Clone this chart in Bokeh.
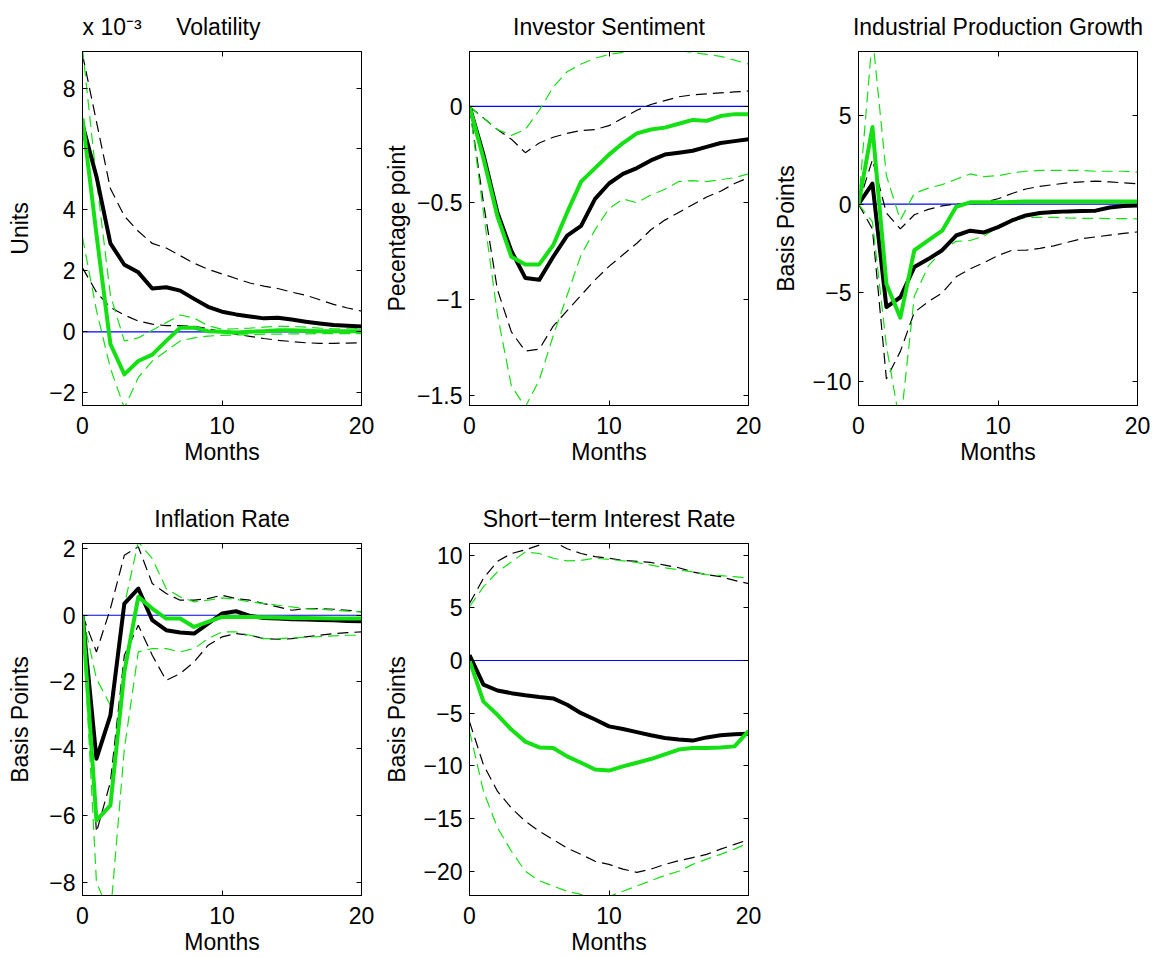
from bokeh.plotting import figure
from bokeh.models import Range1d, FixedTicker, LinearAxis, CustomJSTickFormatter
from bokeh.layouts import row, column
from bokeh.embed import file_html
from bokeh.resources import INLINE

# ---------------- data ----------------
months = list(range(21))
zero_line = [0.0] * len(months)

# Volatility (units of 1e-3)
vol_scale_note = "x 10\u207b\u00b3"
vol_black = [6.8, 5.1, 2.9, 2.2, 1.95, 1.42, 1.46, 1.35, 1.08, 0.82, 0.66, 0.57, 0.5, 0.44, 0.46, 0.4, 0.33, 0.27, 0.22, 0.2, 0.17]
vol_black_up = [9.1, 6.9, 4.7, 3.8, 3.3, 2.9, 2.75, 2.5, 2.25, 2.05, 1.9, 1.75, 1.6, 1.5, 1.42, 1.3, 1.2, 1.05, 0.9, 0.78, 0.68]
vol_black_lo = [2.1, 1.3, 0.8, 0.55, 0.35, 0.25, 0.2, 0.2, 0.18, 0.1, 0.0, -0.08, -0.15, -0.22, -0.28, -0.32, -0.36, -0.38, -0.38, -0.37, -0.36]
vol_green = [7.0, 3.2, -0.4, -1.4, -0.96, -0.75, -0.3, 0.13, 0.13, 0.02, 0.0, -0.02, 0.0, 0.02, 0.05, 0.05, 0.03, 0.02, 0.02, 0.02, 0.02]
vol_green_up = [9.3, 5.0, 1.2, -0.3, -0.2, 0.05, 0.3, 0.55, 0.45, 0.2, 0.08, 0.1, 0.12, 0.15, 0.18, 0.18, 0.15, 0.12, 0.1, 0.1, 0.1]
vol_green_lo = [3.1, 0.7, -1.2, -2.5, -1.5, -0.96, -0.63, -0.3, -0.2, -0.14, -0.12, -0.1, -0.1, -0.08, -0.08, -0.07, -0.07, -0.06, -0.06, -0.06, -0.06]

# Investor Sentiment
sen_black = [0, -0.25, -0.55, -0.75, -0.89, -0.9, -0.78, -0.67, -0.62, -0.48, -0.4, -0.35, -0.32, -0.28, -0.25, -0.24, -0.23, -0.21, -0.19, -0.18, -0.17]
sen_black_up = [0, -0.06, -0.12, -0.17, -0.24, -0.19, -0.16, -0.14, -0.125, -0.12, -0.1, -0.06, -0.02, 0.01, 0.03, 0.05, 0.06, 0.065, 0.07, 0.075, 0.08]
sen_black_lo = [0, -0.5, -0.95, -1.17, -1.27, -1.26, -1.14, -1.06, -0.98, -0.9, -0.83, -0.77, -0.71, -0.64, -0.59, -0.55, -0.51, -0.47, -0.44, -0.4, -0.37]
sen_green = [0, -0.27, -0.57, -0.78, -0.82, -0.82, -0.72, -0.55, -0.39, -0.32, -0.25, -0.19, -0.14, -0.12, -0.11, -0.09, -0.07, -0.075, -0.05, -0.04, -0.04]
sen_green_up = [0, -0.06, -0.12, -0.15, -0.12, -0.02, 0.1, 0.18, 0.22, 0.25, 0.27, 0.28, 0.29, 0.29, 0.29, 0.29, 0.28, 0.27, 0.26, 0.24, 0.22]
sen_green_lo = [0, -0.55, -1.08, -1.45, -1.56, -1.42, -1.19, -0.98, -0.77, -0.64, -0.53, -0.48, -0.5, -0.46, -0.43, -0.39, -0.385, -0.39, -0.38, -0.37, -0.35]

# Industrial Production Growth
ip_black = [0, 1.15, -5.8, -5.25, -3.55, -3.1, -2.6, -1.77, -1.5, -1.6, -1.3, -0.92, -0.64, -0.5, -0.45, -0.41, -0.39, -0.37, -0.19, -0.11, -0.08]
ip_black_up = [0, 2.5, -0.5, -1.4, -0.6, -0.3, -0.1, 0.0, 0.0, 0.1, 0.3, 0.6, 0.85, 1.0, 1.1, 1.2, 1.25, 1.3, 1.25, 1.2, 1.15]
ip_black_lo = [0, -1.4, -9.85, -8.3, -6.1, -5.5, -5.0, -4.1, -3.65, -3.3, -2.9, -2.6, -2.6, -2.5, -2.35, -2.15, -1.95, -1.85, -1.75, -1.65, -1.57]
ip_green = [0, 4.34, -4.5, -6.4, -2.6, -2.05, -1.5, -0.15, 0.1, 0.1, 0.1, 0.12, 0.15, 0.15, 0.15, 0.15, 0.15, 0.15, 0.15, 0.15, 0.15]
ip_green_up = [0, 9.5, 1.6, -0.9, 0.6, 0.9, 1.1, 1.4, 1.7, 1.55, 1.6, 1.75, 1.85, 1.9, 1.9, 1.9, 1.9, 1.85, 1.85, 1.85, 1.8]
ip_green_lo = [0, -1.0, -8.0, -12.5, -5.2, -3.5, -2.6, -2.1, -2.05, -1.8, -1.3, -0.95, -0.75, -0.75, -0.75, -0.78, -0.8, -0.8, -0.82, -0.82, -0.83]

# Inflation Rate
inf_black = [0, -4.3, -3.0, 0.35, 0.8, -0.15, -0.45, -0.52, -0.55, -0.25, 0.05, 0.12, -0.02, -0.08, -0.1, -0.12, -0.13, -0.14, -0.15, -0.17, -0.18]
inf_black_up = [0, -1.1, 0.2, 1.8, 2.05, 0.95, 0.65, 0.45, 0.45, 0.5, 0.6, 0.5, 0.45, 0.35, 0.25, 0.15, 0.2, 0.2, 0.18, 0.15, 0.1]
inf_black_lo = [0, -6.5, -5.0, -1.2, -0.3, -1.2, -1.95, -1.75, -1.4, -0.9, -0.65, -0.55, -0.6, -0.7, -0.72, -0.7, -0.65, -0.6, -0.55, -0.52, -0.5]
inf_green = [0, -6.15, -5.7, -1.7, 0.55, 0.2, -0.1, -0.1, -0.35, -0.2, -0.05, -0.05, -0.05, -0.06, -0.07, -0.08, -0.08, -0.09, -0.1, -0.1, -0.1]
inf_green_up = [0, -1.9, -2.7, 0.3, 2.2, 1.7, 0.8, 0.55, 0.4, 0.45, 0.52, 0.48, 0.4, 0.35, 0.3, 0.25, 0.2, 0.18, 0.15, 0.12, 0.1]
inf_green_lo = [0, -8.0, -9.0, -4.0, -1.1, -1.0, -1.0, -1.1, -1.0, -0.7, -0.5, -0.5, -0.6, -0.7, -0.7, -0.68, -0.66, -0.64, -0.62, -0.6, -0.6]

# Short-term Interest Rate
ir_black = [0.5, -2.3, -2.85, -3.1, -3.3, -3.47, -3.6, -4.2, -5.0, -5.6, -6.25, -6.5, -6.8, -7.1, -7.35, -7.5, -7.6, -7.3, -7.1, -7.0, -6.95]
ir_black_up = [5.4, 7.8, 9.4, 10.15, 10.5, 10.95, 11.3, 10.6, 10.15, 9.85, 9.7, 9.5, 9.4, 9.3, 9.05, 8.8, 8.4, 8.15, 7.95, 7.6, 7.3]
ir_black_lo = [-5.8, -9.9, -12.4, -14.0, -15.25, -16.2, -17.0, -17.8, -18.4, -19.05, -19.35, -19.8, -20.1, -19.8, -19.35, -19.0, -18.7, -18.4, -17.9, -17.45, -17.0]
ir_green = [0, -3.9, -5.15, -6.55, -7.7, -8.25, -8.3, -9.1, -9.7, -10.35, -10.45, -10.05, -9.7, -9.35, -8.9, -8.45, -8.3, -8.3, -8.25, -8.15, -6.7]
ir_green_up = [5.1, 7.0, 8.4, 9.35, 10.3, 10.15, 9.7, 9.45, 9.5, 9.7, 9.6, 9.45, 9.3, 9.05, 8.8, 8.6, 8.4, 8.15, 8.05, 7.95, 7.8]
ir_green_lo = [-6.7, -12.4, -15.85, -18.1, -20.0, -20.9, -21.4, -21.9, -22.2, -22.4, -22.4, -21.9, -21.4, -20.9, -20.4, -20.0, -19.35, -18.85, -18.4, -17.9, -17.3]

x_ticks = [0, 10, 20]
vol_ticks = [-2, 0, 2, 4, 6, 8]
sen_ticks = [-1.5, -1, -0.5, 0]
ip_ticks = [-10, -5, 0, 5]
inf_ticks = [-8, -6, -4, -2, 0, 2]
ir_ticks = [-20, -15, -10, -5, 0, 5, 10]

# ---------------- style ----------------
FONT = "Liberation Sans"
BLACK = "#000000"
GREEN = "#14e014"
BLUE = "#0000ff"
TICK_FS = "23px"
LABEL_FS = "23px"
TITLE_FS = "23px"
DASH = "11 6"


def fmt(v):
    return ("%g" % v).replace("-", "\u2212")


def blank_axis(ticks):
    ax = LinearAxis(ticker=FixedTicker(ticks=ticks),
                    formatter=CustomJSTickFormatter(code="return ''"))
    ax.major_tick_in = 5
    ax.major_tick_out = 0
    ax.minor_tick_in = 0
    ax.minor_tick_out = 0
    ax.major_label_standoff = 0
    ax.axis_line_color = BLACK
    ax.major_tick_line_color = BLACK
    return ax


def panel(title, ylabel, ylo, yhi, yticks, black, black_up, black_lo,
          green, green_up, green_lo, mb_left, mb_right, mb_top, mb_bottom,
          fw, fh, ylab_standoff, title_standoff, title_align="center"):
    p = figure(output_backend="svg", toolbar_location=None,
               frame_width=fw, frame_height=fh,
               min_border_left=mb_left, min_border_right=mb_right,
               min_border_top=mb_top, min_border_bottom=mb_bottom,
               x_range=Range1d(0, 20), y_range=Range1d(ylo, yhi),
               tools="")
    p.background_fill_color = "white"
    p.border_fill_color = "white"
    p.outline_line_color = BLACK
    p.outline_line_width = 1
    p.grid.visible = False

    p.title.text = title
    p.title.text_font = FONT
    p.title.text_font_size = TITLE_FS
    p.title.text_font_style = "normal"
    p.title.text_color = BLACK
    p.title.align = title_align
    p.title.standoff = title_standoff

    for ax, ticks in ((p.xaxis[0], x_ticks), (p.yaxis[0], yticks)):
        ax.ticker = FixedTicker(ticks=ticks)
        ax.major_label_overrides = {t: fmt(t) for t in ticks}
        ax.major_label_text_font = FONT
        ax.major_label_text_font_size = TICK_FS
        ax.major_label_text_color = BLACK
        ax.axis_label_text_font = FONT
        ax.axis_label_text_font_size = LABEL_FS
        ax.axis_label_text_font_style = "normal"
        ax.axis_label_text_color = BLACK
        ax.major_tick_in = 5
        ax.major_tick_out = 0
        ax.minor_tick_in = 0
        ax.minor_tick_out = 0
        ax.axis_line_color = BLACK
        ax.major_tick_line_color = BLACK
    p.xaxis[0].axis_label = "Months"
    p.xaxis[0].major_label_standoff = 11
    p.xaxis[0].axis_label_standoff = 2
    p.yaxis[0].axis_label = ylabel
    p.yaxis[0].major_label_standoff = 7
    p.yaxis[0].axis_label_standoff = ylab_standoff

    p.add_layout(blank_axis(x_ticks), "above")
    p.add_layout(blank_axis(yticks), "right")

    p.line(months, zero_line, line_color=BLUE, line_width=1.2)

    p.line(months, black_up, line_color=BLACK, line_width=1.2, line_dash=DASH)
    p.line(months, black_lo, line_color=BLACK, line_width=1.2, line_dash=DASH)
    p.line(months, green_up, line_color=GREEN, line_width=1.2, line_dash=DASH)
    p.line(months, green_lo, line_color=GREEN, line_width=1.2, line_dash=DASH)
    p.line(months, black, line_color=BLACK, line_width=4, line_join="round")
    p.line(months, green, line_color=GREEN, line_width=4, line_join="round")
    return p


GAP = "\u2002\u2002\u2002"
p1 = panel(vol_scale_note + GAP + "Volatility", "Units", -2.42, 9.2, vol_ticks,
           vol_black, vol_black_up, vol_black_lo, vol_green, vol_green_up, vol_green_lo,
           82, 19, 50, 86, 279, 354, 13, 23, "left")

p2 = panel("Investor Sentiment", "Pecentage point", -1.552, 0.285, sen_ticks,
           sen_black, sen_black_up, sen_black_lo, sen_green, sen_green_up, sen_green_lo,
           89, 22, 50, 86, 279, 354, 4, 23)
p3 = panel("Industrial Production Growth", "Basis Points", -11.35, 8.6, ip_ticks,
           ip_black, ip_black_up, ip_black_lo, ip_green, ip_green_up, ip_green_lo,
           88, 19, 50, 86, 279, 354, 10, 23)
p4 = panel("Inflation Rate", "Basis Points", -8.4, 2.15, inf_ticks,
           inf_black, inf_black_up, inf_black_lo, inf_green, inf_green_up, inf_green_lo,
           82, 19, 52, 63, 279, 352, 13, 24)
p5 = panel("Short\u2212term Interest Rate", "Basis Points", -22.3, 11.1, ir_ticks,
           ir_black, ir_black_up, ir_black_lo, ir_green, ir_green_up, ir_green_lo,
           89, 22, 52, 63, 279, 352, 10, 24)

layout = column(row(p1, p2, p3), row(p4, p5))

open("out.html", "w").write(file_html(layout, INLINE))
